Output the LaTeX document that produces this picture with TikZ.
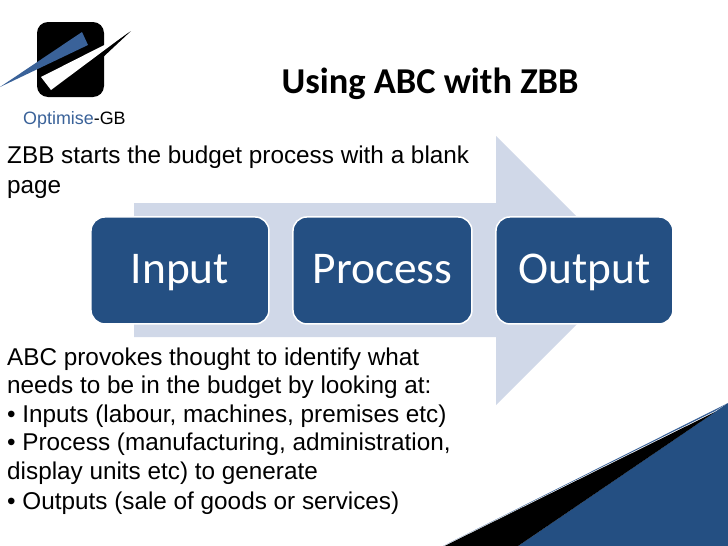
\documentclass[tikz,border=0pt]{standalone}
\usepackage{fontspec}
\setmainfont{Liberation Sans}
\newfontfamily\carlito{Carlito}
\definecolor{boxblue}{HTML}{244F82}
\definecolor{arrowpale}{HTML}{D0D8E8}
\definecolor{logoblue}{HTML}{3A6299}
\tikzset{
  stepbox/.style={draw=white,line width=1.5pt,fill=boxblue,rounded corners=14pt,text=white,minimum height=107pt,font=\carlito\fontsize{45.4}{46}\selectfont,inner sep=0pt,anchor=north west,text height=30pt,text depth=4pt},
  bodytext/.style={anchor=base west,inner sep=0pt,font=\fontsize{24.3}{26}\selectfont,text=black},
}
\begin{document}
\begin{tikzpicture}[x=1pt,y=-1pt]
\useasboundingbox (0,0) rectangle (728,546);
\fill[white] (0,0) rectangle (728,546);
% arrow
\fill[arrowpale] (134,203) -- (496,203) -- (496,136) -- (630.5,270.5) -- (496,405) -- (496,337) -- (134,337) -- cycle;
% boxes
\node[stepbox,minimum width=178pt] (input) at (90.2,216.2) {Input};
\node[stepbox,minimum width=179pt] (process) at (292.2,216.2) {Process};
\node[stepbox,minimum width=177pt] (output) at (495.2,216.2) {Output};
% logo
\fill[black,rounded corners=11pt] (37,22) rectangle (104,97);
\fill[black] (100,52) -- (131,31) -- (100,60) -- cycle;
\fill[white] (41,77) -- (126,34) -- (51,90) -- cycle;
\fill[logoblue] (0,87) -- (82,32) -- (88,45) -- cycle;
\node[anchor=base west,inner sep=0pt,font=\fontsize{17.9}{20}\selectfont] (logotext) at (23,124) {\textcolor{logoblue}{Optimise}-GB};
% corner
\fill[boxblue] (728,403) -- (728,546) -- (518,546) -- cycle;
\fill[logoblue] (443,546) -- (728,403) -- (715,411) -- cycle;
\fill[black] (444.5,546) -- (715,412) -- (518,546) -- cycle;
% title
\node[anchor=base,inner sep=0pt,font=\carlito\bfseries\fontsize{36.4}{38}\selectfont] (title) at (430,93) {Using ABC with ZBB};
% text
\node[bodytext] (t1) at (7,163) {ZBB starts the budget process with a blank};
\node[bodytext] (t2) at (7,193) {page};
\node[bodytext] (t3) at (7,365) {ABC provokes thought to identify what};
\node[bodytext] (t4) at (7,393) {needs to be in the budget by looking at:};
\node[bodytext] (t5) at (7,422) {• Inputs (labour, machines, premises etc)};
\node[bodytext] (t6) at (7,450) {• Process (manufacturing, administration,};
\node[bodytext] (t7) at (7,479) {display units etc) to generate};
\node[bodytext] (t8) at (7,509) {• Outputs (sale of goods or services)};
\end{tikzpicture}
\end{document}
